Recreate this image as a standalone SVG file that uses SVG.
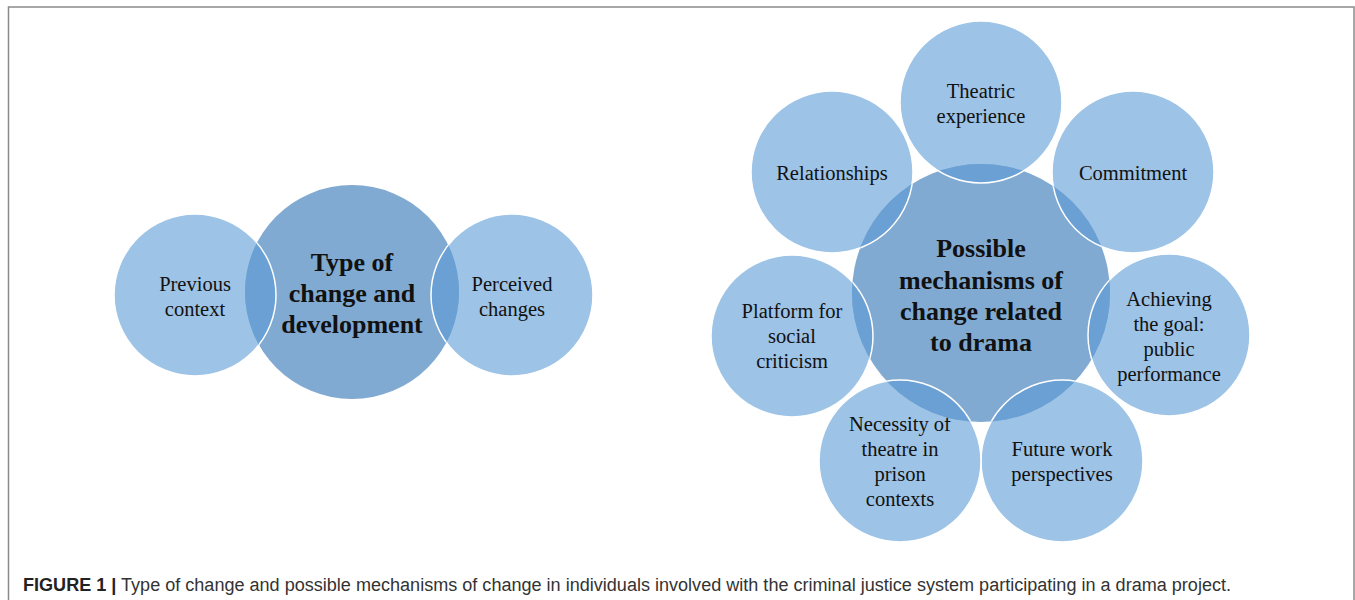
<svg xmlns="http://www.w3.org/2000/svg" xmlns:xlink="http://www.w3.org/1999/xlink" width="1355" height="600" viewBox="0 0 1355 600">
<style>
.outer{fill:#9DC3E6;stroke:#ffffff;stroke-width:1.5}
.hub{fill:#80AAD2;stroke:none}
.ov{fill:#6AA0D4;stroke:#ffffff;stroke-width:1.5}
.t{font-family:"Liberation Serif","Times New Roman",serif;font-size:20.5px;fill:#111;text-anchor:middle}
.tb{font-family:"Liberation Serif","Times New Roman",serif;font-size:26px;font-weight:bold;fill:#111;text-anchor:middle}
.cap{font-family:"Liberation Sans",Arial,sans-serif;font-size:18px;fill:#333}
.frame{stroke:#8a8a8a;stroke-width:1.5;fill:none}
</style>
<defs>
<circle id="cL1" cx="195" cy="295" r="81"/>
<circle id="cL2" cx="512" cy="295" r="81"/>
<circle id="cR1" cx="981" cy="102" r="81"/>
<circle id="cR2" cx="1133" cy="172" r="81"/>
<circle id="cR3" cx="1169" cy="335" r="81"/>
<circle id="cR4" cx="1062" cy="461" r="81"/>
<circle id="cR5" cx="900" cy="461" r="81"/>
<circle id="cR6" cx="792" cy="336" r="81"/>
<circle id="cR7" cx="832" cy="172" r="81"/>
<clipPath id="clipL"><circle cx="352" cy="292" r="107"/></clipPath>
<clipPath id="clipR"><circle cx="981" cy="293" r="129"/></clipPath>
</defs>
<rect width="1355" height="600" fill="#ffffff"/>
<g id="frame">
<path class="frame" d="M8.5,600 V7 H1354 V600"/>
</g>
<g id="connectors"></g>

<!-- Left cluster -->
<g id="node-previous-context">
<use xlink:href="#cL1" class="outer"/>
<text class="t" x="195" y="291">Previous</text>
<text class="t" x="195" y="316">context</text>
</g>
<g id="node-perceived-changes">
<use xlink:href="#cL2" class="outer"/>
<text class="t" x="512" y="291">Perceived</text>
<text class="t" x="512" y="316">changes</text>
</g>
<g id="node-type-of-change">
<circle class="hub" cx="352" cy="292" r="107"/>
<g clip-path="url(#clipL)">
<use xlink:href="#cL1" class="ov"/>
<use xlink:href="#cL2" class="ov"/>
</g>
<text class="tb" x="352" y="271">Type of</text>
<text class="tb" x="352" y="302">change and</text>
<text class="tb" x="352" y="333">development</text>
</g>

<!-- Right cluster -->
<g id="node-theatric-experience">
<use xlink:href="#cR1" class="outer"/>
<text class="t" x="981" y="98">Theatric</text>
<text class="t" x="981" y="123">experience</text>
</g>
<g id="node-commitment">
<use xlink:href="#cR2" class="outer"/>
<text class="t" x="1133" y="180">Commitment</text>
</g>
<g id="node-achieving-goal">
<use xlink:href="#cR3" class="outer"/>
<text class="t" x="1169" y="306">Achieving</text>
<text class="t" x="1169" y="331">the goal:</text>
<text class="t" x="1169" y="356">public</text>
<text class="t" x="1169" y="381">performance</text>
</g>
<g id="node-future-work">
<use xlink:href="#cR4" class="outer"/>
<text class="t" x="1062" y="456">Future work</text>
<text class="t" x="1062" y="481">perspectives</text>
</g>
<g id="node-necessity-theatre">
<use xlink:href="#cR5" class="outer"/>
<text class="t" x="900" y="431">Necessity of</text>
<text class="t" x="900" y="456">theatre in</text>
<text class="t" x="900" y="481">prison</text>
<text class="t" x="900" y="506">contexts</text>
</g>
<g id="node-platform">
<use xlink:href="#cR6" class="outer"/>
<text class="t" x="792" y="318">Platform for</text>
<text class="t" x="792" y="343">social</text>
<text class="t" x="792" y="368">criticism</text>
</g>
<g id="node-relationships">
<use xlink:href="#cR7" class="outer"/>
<text class="t" x="832" y="180">Relationships</text>
</g>
<g id="node-possible-mechanisms">
<circle class="hub" cx="981" cy="293" r="129"/>
<g clip-path="url(#clipR)">
<use xlink:href="#cR1" class="ov"/>
<use xlink:href="#cR2" class="ov"/>
<use xlink:href="#cR3" class="ov"/>
<use xlink:href="#cR4" class="ov"/>
<use xlink:href="#cR5" class="ov"/>
<use xlink:href="#cR6" class="ov"/>
<use xlink:href="#cR7" class="ov"/>
</g>
<text class="tb" x="981" y="257">Possible</text>
<text class="tb" x="981" y="289">mechanisms of</text>
<text class="tb" x="981" y="320">change related</text>
<text class="tb" x="981" y="351">to drama</text>
</g>

<g id="caption">
<text class="cap" x="23" y="591" textLength="1208" lengthAdjust="spacingAndGlyphs"><tspan font-weight="bold" fill="#222">FIGURE 1 |</tspan> Type of change and possible mechanisms of change in individuals involved with the criminal justice system participating in a drama project.</text>
</g>
</svg>
